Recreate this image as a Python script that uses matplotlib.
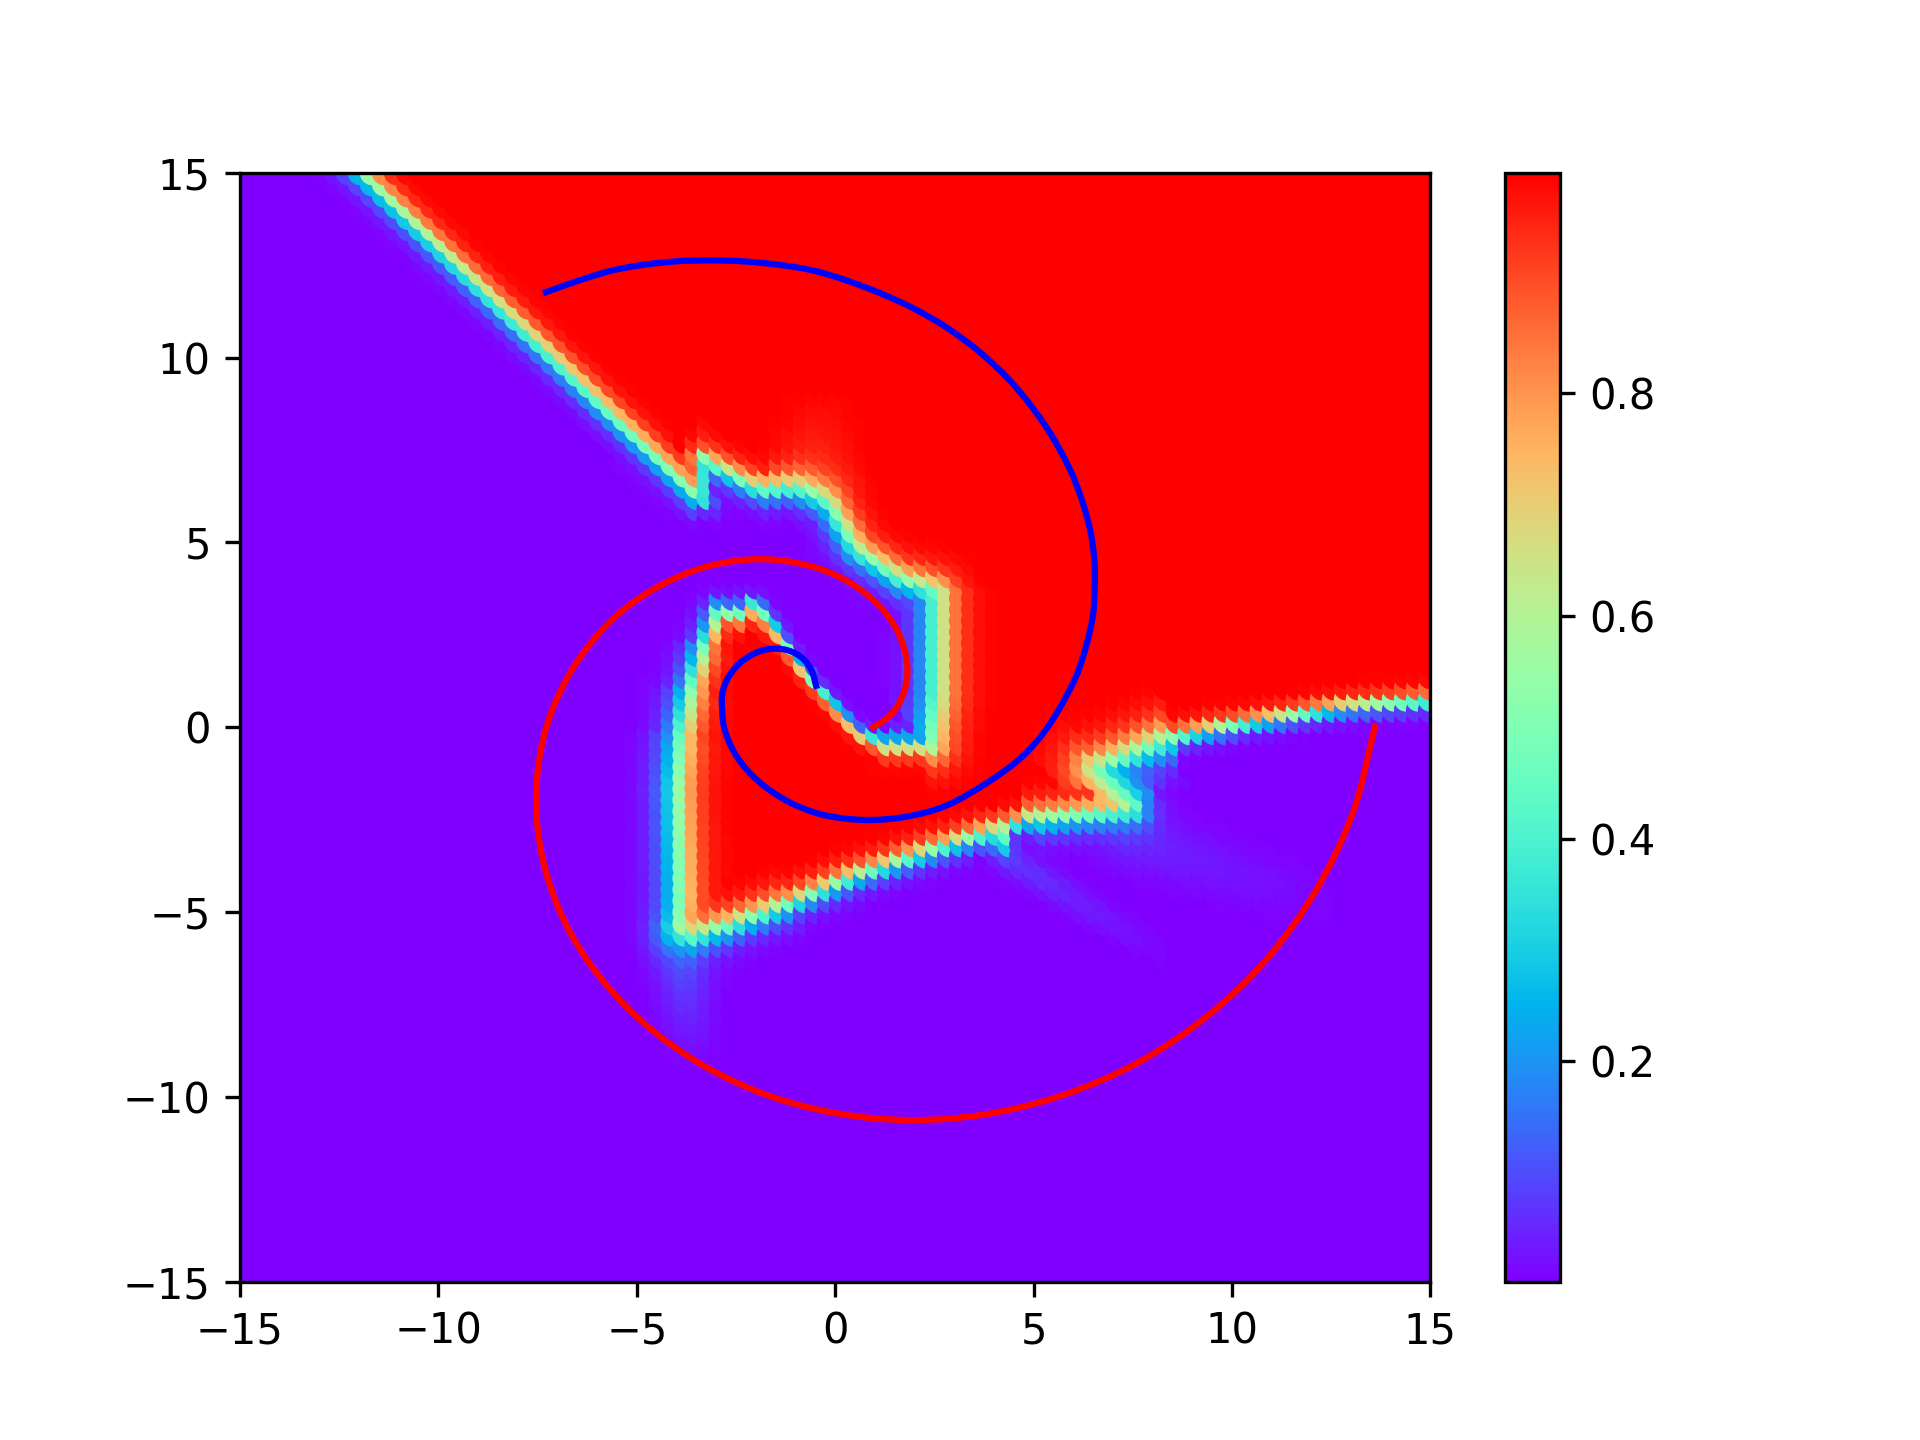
import numpy as np
import matplotlib
matplotlib.use("Agg")
import matplotlib.pyplot as plt
from matplotlib.path import Path
from matplotlib.patches import PathPatch

# Mid-level (0.5) outline of the high-probability region
edge_x = [-21.0, -3.25, -3.25, -1.80, -0.85, -0.05, 0.70, 1.78, 2.70, 2.70, 2.55, 1.30, 0.70, -0.54, -1.30, -1.87, -2.35, -2.80, -3.20, -3.50, -3.75, -3.85, -3.80, -3.75, -3.40, -2.55, -1.00, 0.54, 2.70, 4.10, 4.30, 4.45, 5.00, 7.70, 6.72, 8.57, 10.1, 12.9, 22.0, 22.0]
edge_y = [24.6, 6.25, 7.40, 6.55, 6.60, 6.20, 4.90, 4.13, 3.80, 1.00, -0.35, -0.35, -0.02, 1.47, 2.63, 3.46, 3.10, 3.30, 2.20, 1.14, -0.18, -1.50, -3.50, -5.30, -5.45, -5.25, -4.65, -3.95, -3.17, -2.70, -3.10, -2.55, -2.40, -2.10, -1.00, -0.18, 0.15, 0.65, 1.40, 24.0]
edge_soft = [0.17, 0.12, 0.17, 0.22, 0.24, 0.22, 0.22, 0.24, 0.28, 0.28, 0.16, 0.10, 0.08, 0.08, 0.10, 0.14, 0.14, 0.16, 0.20, 0.24, 0.27, 0.27, 0.27, 0.25, 0.24, 0.22, 0.18, 0.17, 0.17, 0.12, 0.12, 0.14, 0.22, 0.36, 0.30, 0.14, 0.13, 0.13, 0.13, 0.5]

# Faint streaks in the flat regions: x0, y0, x1, y1, half-width, strength
streak_x0 = [-3.8, 4.6, 7.6, -0.4, -3.3]
streak_y0 = [-5.6, -3.5, -2.9, 6.8, 7.4]
streak_x1 = [-3.4, 9.0, 13.5, -0.2, -3.2]
streak_y1 = [-9.2, -6.4, -5.0, 9.5, 8.6]
streak_w = [0.65, 0.40, 0.80, 0.90, 0.20]
streak_amp = [0.12, 0.07, 0.05, -0.06, -0.08]

# Spiral class outlines
red_x = [13.6, 13.05, 12.12, 10.87, 9.35, 7.62, 5.75, 3.81, 1.87, 0.0, -1.75, -3.33, -4.69, -5.81, -6.66, -7.22, -7.50, -7.51, -7.28, -6.82, -6.18, -5.40, -4.50, -3.55, -2.59, -1.65, -0.78, 0.0, 0.65, 1.17, 1.54, 1.75, 1.82, 1.75, 1.57, 1.29, 0.96]
red_y = [0.0, -2.30, -4.41, -6.28, -7.84, -9.08, -9.95, -10.47, -10.63, -10.44, -9.94, -9.15, -8.13, -6.92, -5.59, -4.17, -2.73, -1.32, 0.0, 1.20, 2.25, 3.12, 3.78, 4.24, 4.49, 4.54, 4.40, 4.12, 3.71, 3.21, 2.66, 2.08, 1.52, 1.01, 0.57, 0.23, 0.0]
blue_x = [-0.48, -0.61, -0.90, -1.32, -1.83, -2.33, -2.67, -2.84, -2.85, -2.79, -2.54, -2.16, -1.68, -1.02, -0.23, 0.78, 1.79, 2.80, 3.89, 4.73, 5.32, 5.83, 6.16, 6.48, 6.54, 6.53, 6.42, 6.21, 5.91, 5.32, 4.48, 3.64, 2.80, 1.96, 1.12, 0.28, -0.57, -1.41, -2.25, -3.09, -3.93, -4.77, -5.61, -6.45, -7.29]
blue_y = [1.12, 1.57, 1.93, 2.11, 2.08, 1.80, 1.39, 0.94, 0.49, -0.05, -0.69, -1.23, -1.68, -2.10, -2.39, -2.51, -2.42, -2.12, -1.46, -0.78, -0.05, 0.85, 1.62, 2.92, 3.83, 4.55, 5.36, 6.17, 6.99, 8.12, 9.29, 10.15, 10.82, 11.34, 11.75, 12.09, 12.36, 12.51, 12.60, 12.63, 12.61, 12.52, 12.36, 12.09, 11.77]


def smooth_path(xs, ys):
    """Curve through the read points, written as Bezier segments."""
    p = np.column_stack([xs, ys])
    q = np.vstack([2 * p[0] - p[1], p, 2 * p[-1] - p[-2]])
    tan = q[2:] - q[:-2]
    tan = tan / np.hypot(tan[:, 0], tan[:, 1])[:, None]
    verts, codes = [p[0]], [Path.MOVETO]
    for i in range(len(p) - 1):
        seg = np.hypot(*(p[i + 1] - p[i])) / 3
        verts += [p[i] + tan[i] * seg, p[i + 1] - tan[i + 1] * seg, p[i + 1]]
        codes += [Path.CURVE4] * 3
    return Path(verts, codes)


grid_n = 100
limits = (-15, 15)
gx = np.linspace(limits[0], limits[1], grid_n)
X, Y = np.meshgrid(gx, gx, indexing="ij")
pts = np.column_stack([X.ravel(), Y.ravel()])

ex, ey = np.array(edge_x), np.array(edge_y)
soft = np.array(edge_soft)
ax0, ay0 = ex, ey
ax1, ay1 = np.roll(ex, -1), np.roll(ey, -1)
dx, dy = ax1 - ax0, ay1 - ay0
L2 = dx * dx + dy * dy
t = ((pts[:, 0, None] - ax0) * dx + (pts[:, 1, None] - ay0) * dy) / L2
t = np.clip(t, 0, 1)
dist = np.hypot(pts[:, 0, None] - ax0 - t * dx, pts[:, 1, None] - ay0 - t * dy)
near = dist.argmin(axis=1)
d = dist[np.arange(len(pts)), near]
inside = Path(np.column_stack([ex, ey])).contains_points(pts)
signed = np.where(inside, d, -d)
Z = 1.0 / (1.0 + np.exp(-signed / soft[near]))

for x0, y0, x1, y1, w, amp in zip(streak_x0, streak_y0, streak_x1, streak_y1, streak_w, streak_amp):
    sx, sy = x1 - x0, y1 - y0
    u = ((pts[:, 0] - x0) * sx + (pts[:, 1] - y0) * sy) / (sx * sx + sy * sy)
    u = np.clip(u, 0, 1)
    r = np.hypot(pts[:, 0] - x0 - u * sx, pts[:, 1] - y0 - u * sy)
    Z = Z + amp * (1 - u) * np.exp(-(r / w) ** 2)
Z = np.clip(Z, 0.002, 0.998)

fig, ax = plt.subplots(figsize=(6.4, 4.8), dpi=300)
sc = ax.scatter(pts[:, 0], pts[:, 1], c=Z, cmap="rainbow", s=36, linewidths=0, vmin=0.002, vmax=0.998)
ax.add_patch(PathPatch(smooth_path(red_x, red_y), fill=False, edgecolor="red", lw=1.5, capstyle="projecting"))
ax.add_patch(PathPatch(smooth_path(blue_x, blue_y), fill=False, edgecolor="blue", lw=1.5, capstyle="projecting"))
ax.set_xlim(*limits)
ax.set_ylim(*limits)
fig.colorbar(sc, ax=ax, ticks=[0.2, 0.4, 0.6, 0.8])
fig.savefig("out.png", dpi=300)
